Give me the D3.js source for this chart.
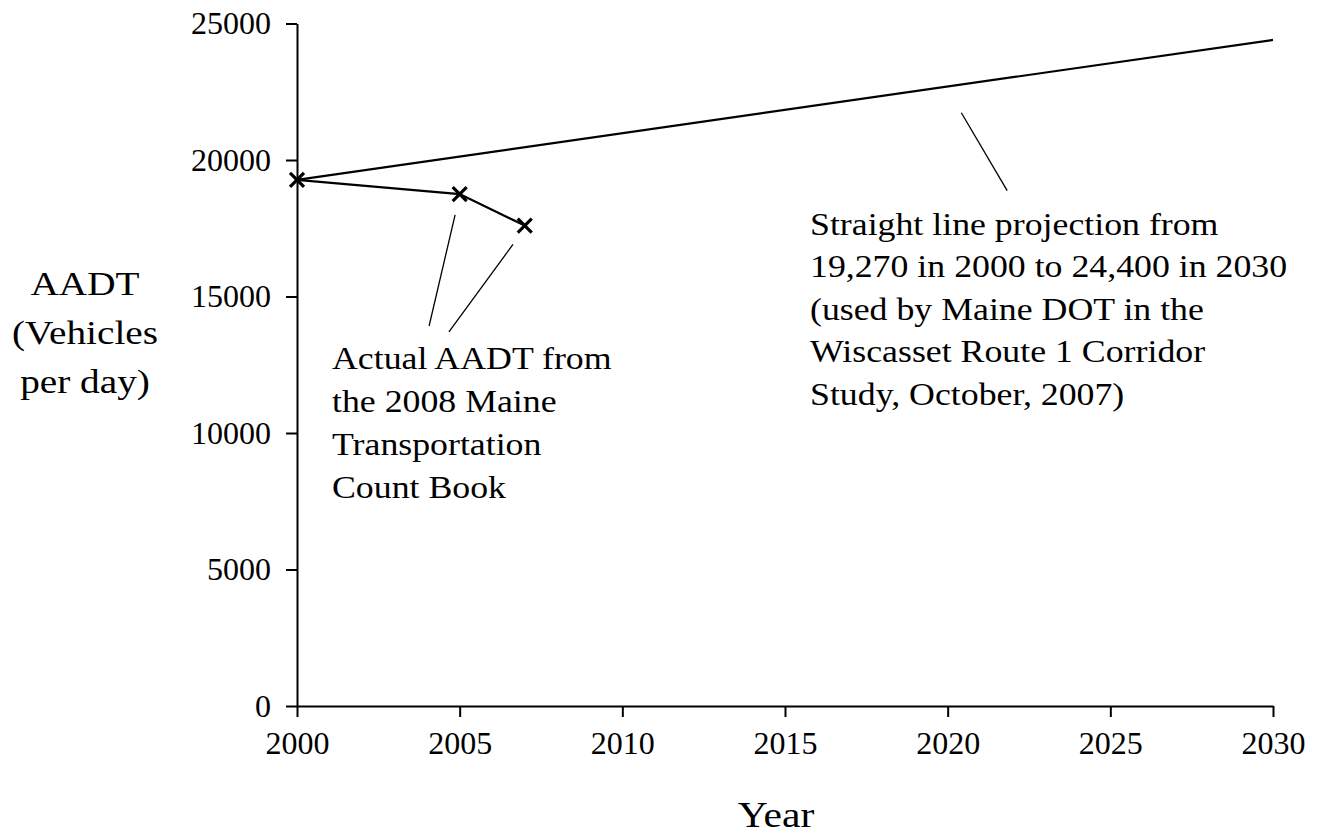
<!DOCTYPE html>
<html>
<head>
<meta charset="utf-8">
<script src="https://cdn.jsdelivr.net/npm/d3@7"></script>
<style>
  html, body { margin: 0; padding: 0; background: #fff; }
  svg { display: block; }
  text { fill: #000; }
</style>
</head>
<body>
<svg id="chart" width="1317" height="835"></svg>
<script>
// ---- data ----
const actualYears = [2000, 2005, 2007];
const actualAADT = [19270, 18750, 17600];
const projectionYears = [2000, 2030];
const projectionAADT = [19270, 24400];
const xTicks = [2000, 2005, 2010, 2015, 2020, 2025, 2030];
const yTicks = [0, 5000, 10000, 15000, 20000, 25000];
const yLabelLines = ["AADT", "(Vehicles", "per day)"];
const xLabel = "Year";
const actualNote = ["Actual AADT from", "the 2008 Maine", "Transportation", "Count Book"];
const projectionNote = ["Straight line projection from", "19,270 in 2000 to 24,400 in 2030",
  "(used by Maine DOT in the", "Wiscasset Route 1 Corridor", "Study, October, 2007)"];
// leader lines in data space: [year1, value1, year2, value2]
const leaders = [
  [2020.42, 21730, 2021.83, 18880],
  [2004.86, 17990, 2004.06, 13920],
  [2006.64, 16910, 2004.67, 13700]
];

const svg = d3.select("#chart");
const x = d3.scaleLinear().domain([2000, 2030]).range([297, 1273]);
const y = d3.scaleLinear().domain([0, 25000]).range([706, 23.5]);

const tickFont = "'Liberation Serif', 'Times New Roman', serif";
const noteFont = "'Liberation Serif', 'Times New Roman', serif";
const wide = 1.155; // horizontal stretch to mimic a Palatino-like face

// axes
const yAxis = svg.append("g").attr("transform", `translate(${x(2000)},0)`)
  .call(d3.axisLeft(y).tickValues(yTicks).tickFormat(d3.format("d")).tickSize(11).tickSizeOuter(0).tickPadding(15));
const xAxis = svg.append("g").attr("transform", `translate(0,${y(0)})`)
  .call(d3.axisBottom(x).tickValues(xTicks).tickFormat(d3.format("d")).tickSize(11).tickSizeOuter(0).tickPadding(14));
[yAxis, xAxis].forEach(g => {
  g.selectAll("path.domain").attr("stroke", "#000").attr("stroke-width", 2);
  g.selectAll(".tick line").attr("stroke", "#000").attr("stroke-width", 2);
  g.selectAll(".tick text").attr("font-family", tickFont).attr("font-size", 32).attr("fill", "#000");
});
xAxis.selectAll(".tick text").attr("dy", "0.71em");

// projection line
const line = d3.line().x(d => x(d[0])).y(d => y(d[1]));
svg.append("path")
  .datum(projectionYears.map((yr, i) => [yr, projectionAADT[i]]))
  .attr("d", line).attr("fill", "none").attr("stroke", "#000").attr("stroke-width", 2.2);

// actual line
const actual = actualYears.map((yr, i) => [yr, actualAADT[i]]);
svg.append("path").datum(actual).attr("d", line)
  .attr("fill", "none").attr("stroke", "#000").attr("stroke-width", 2.2);

// X markers
const s = 7;
svg.append("g").selectAll("path").data(actual).join("path")
  .attr("d", d => {
    const cx = x(d[0]), cy = y(d[1]);
    return `M${cx - s},${cy - s}L${cx + s},${cy + s}M${cx - s},${cy + s}L${cx + s},${cy - s}`;
  })
  .attr("stroke", "#000").attr("stroke-width", 3.2).attr("fill", "none");

// leader lines
svg.append("g").selectAll("line").data(leaders).join("line")
  .attr("x1", d => x(d[0])).attr("y1", d => y(d[1]))
  .attr("x2", d => x(d[2])).attr("y2", d => y(d[3]))
  .attr("stroke", "#000").attr("stroke-width", 1.3);

// notes (left-aligned, stretched horizontally)
function note(lines, x0, y0, lh, size) {
  const t = svg.append("text").attr("font-family", noteFont).attr("font-size", size)
    .attr("transform", `translate(${x0},0) scale(${wide},1)`);
  lines.forEach((l, i) => t.append("tspan").attr("x", 0).attr("y", y0 + i * lh).text(l));
  return t;
}
note(actualNote, 332, 369, 43, 31);
note(projectionNote, 810, 235, 42.5, 31);

// axis titles
const yl = svg.append("text").attr("font-family", noteFont).attr("font-size", 34)
  .attr("text-anchor", "middle").attr("transform", `translate(85,0) scale(${wide},1)`);
yLabelLines.forEach((l, i) => yl.append("tspan").attr("x", 0).attr("y", 295 + i * 49).text(l));
svg.append("text").attr("font-family", noteFont).attr("font-size", 36)
  .attr("text-anchor", "middle").attr("transform", `translate(776,0) scale(${wide},1)`)
  .attr("x", 0).attr("y", 827).text(xLabel);
</script>
</body>
</html>
